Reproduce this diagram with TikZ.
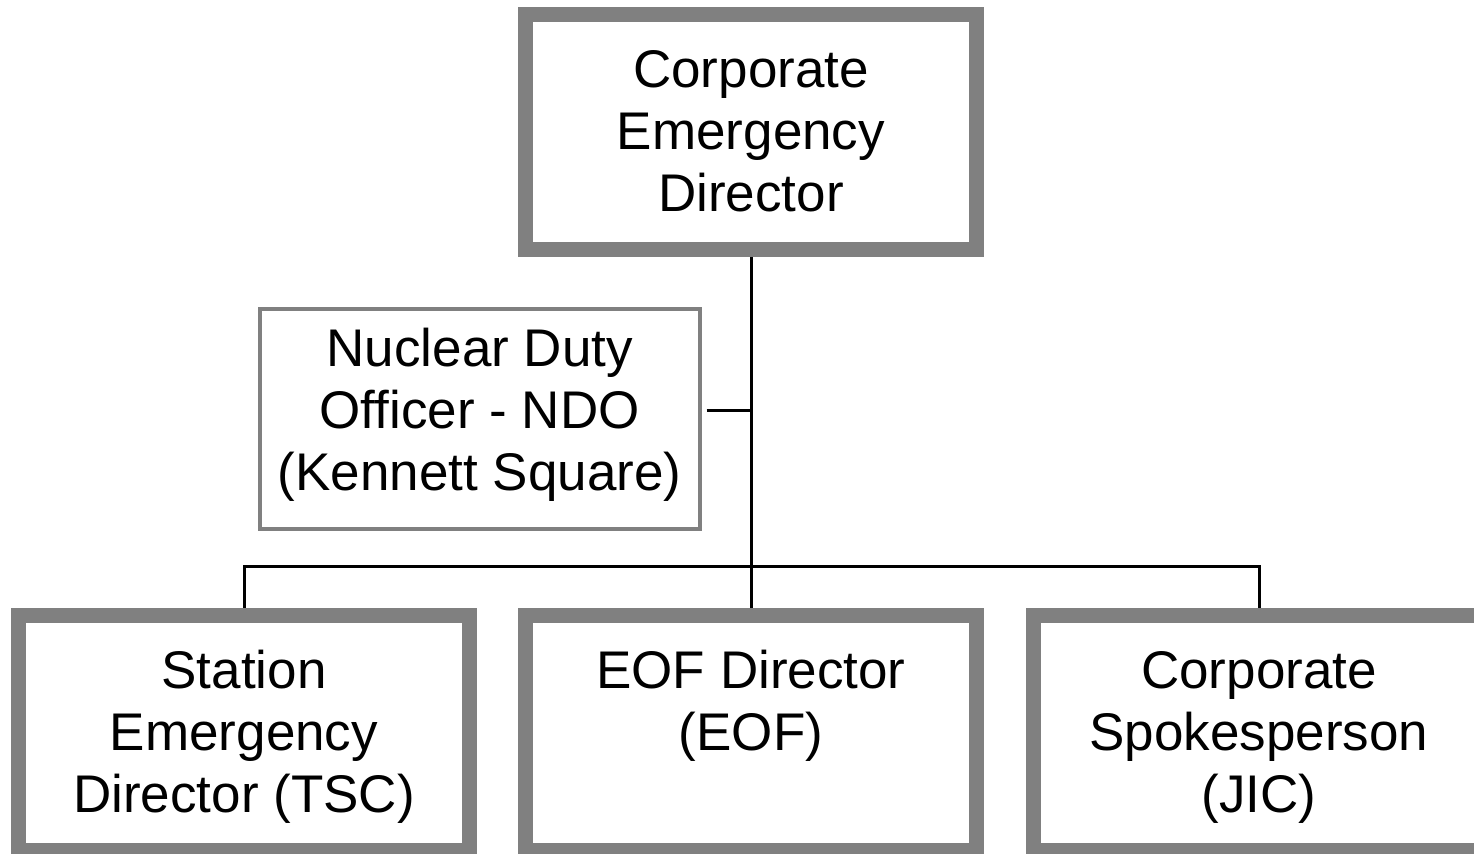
\documentclass[tikz,border=0pt]{standalone}
\usepackage{fontspec}
\setmainfont{Liberation Sans}
\usetikzlibrary{positioning}

\definecolor{boxgray}{RGB}{128,128,128}

\tikzset{
  chartfont/.style={font=\fontsize{26.5}{31}\selectfont},
  % heavy framed posts of the emergency organisation
  keybox/.style={draw=boxgray, line width=7.5pt, minimum width=225.5pt,
    minimum height=117.5pt, align=center, inner sep=2pt,
    text height=84pt, text depth=4pt, chartfont},
  % thin framed advisory post
  sidebox/.style={draw=boxgray, line width=2pt, minimum width=219.75pt,
    minimum height=110pt, align=center, inner sep=2pt,
    text height=76pt, text depth=4pt, chartfont},
  link/.style={draw=black, line width=1.5pt},
}

\begin{document}
\begin{tikzpicture}[x=0.5pt, y=-0.5pt]
  \useasboundingbox (0,0) rectangle (1474,854);
  \clip (0,0) rectangle (1474,854);
  % top of the chart
  \node[keybox] (ced) at (751,132) {Corporate\\Emergency\\Director};
  % the three posts below it (two-line text sits at the top like the others)
  \node[keybox, text height=22pt] (eof) at (751,733) {EOF Director\\(EOF)};
  \node[keybox, left=20.5pt of eof] (sed) {Station\\Emergency\\Director (TSC)};
  \node[keybox, right=21pt of eof] (spk) {Corporate\\Spokesperson\\(JIC)};
  % advisory post beside the trunk
  \node[sidebox] (ndo) at (479.75,419) {Nuclear Duty\\Officer - NDO\\(Kennett Square)};

  % connectors
  \coordinate (bus) at (750.5,567);
  \draw[link] (ced.south) -- (eof.north);
  \draw[link] (sed.north) |- (bus) -| (spk.north);
  \draw[link] ([shift={(5,-8)}]ndo.east) coordinate (tap) -- (tap -| ced.south);
\end{tikzpicture}
\end{document}
